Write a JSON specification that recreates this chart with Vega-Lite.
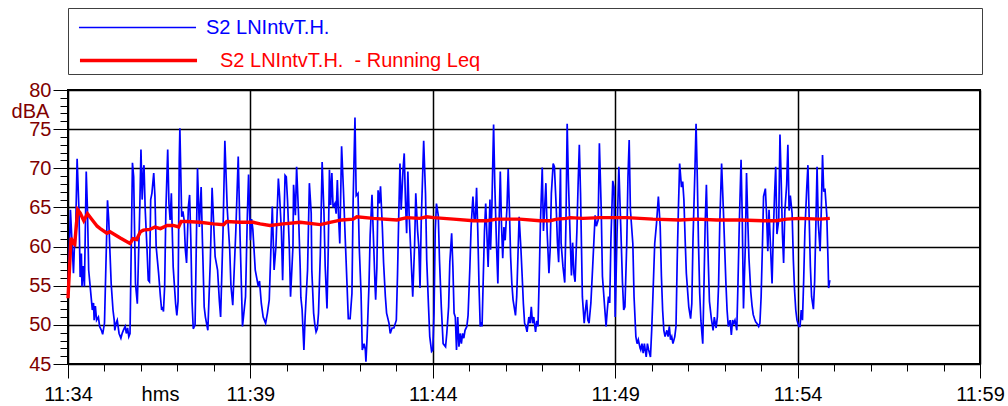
{
  "$schema": "https://vega.github.io/schema/vega-lite/v6.json",
  "width": 912,
  "height": 274,
  "autosize": "none",
  "padding": {"left": 68, "top": 90, "right": 28, "bottom": 42},
  "config": {
    "font": "Liberation Sans",
    "view": {"stroke": "black", "strokeWidth": 2},
    "axis": {
      "domainColor": "black",
      "tickColor": "black",
      "gridColor": "black",
      "gridWidth": 1.5,
      "labelFontSize": 20,
      "titleFontSize": 20,
      "titleFontWeight": "normal"
    }
  },
  "resolve": {"scale": {"color": "independent"}, "axis": {"x": "independent", "y": "independent"}},
  "layer": [
    {
      "data": {"values": [
      {"t": "2024-01-01T11:34:00", "v": 53.5}, {"t": "2024-01-01T11:34:04", "v": 64.7}, {"t": "2024-01-01T11:34:09", "v": 56.6}, {"t": "2024-01-01T11:34:11", "v": 61},
      {"t": "2024-01-01T11:34:12", "v": 60}, {"t": "2024-01-01T11:34:15", "v": 71.2}, {"t": "2024-01-01T11:34:18", "v": 64.7}, {"t": "2024-01-01T11:34:20", "v": 56.1},
      {"t": "2024-01-01T11:34:22", "v": 59.1}, {"t": "2024-01-01T11:34:23", "v": 54.9}, {"t": "2024-01-01T11:34:25", "v": 57.5}, {"t": "2024-01-01T11:34:27", "v": 54.9},
      {"t": "2024-01-01T11:34:30", "v": 69.6}, {"t": "2024-01-01T11:34:32", "v": 64.7}, {"t": "2024-01-01T11:34:34", "v": 57}, {"t": "2024-01-01T11:34:38", "v": 53.6},
      {"t": "2024-01-01T11:34:40", "v": 51.9}, {"t": "2024-01-01T11:34:42", "v": 52.8}, {"t": "2024-01-01T11:34:43", "v": 50.6}, {"t": "2024-01-01T11:34:45", "v": 52.4},
      {"t": "2024-01-01T11:34:47", "v": 50.6}, {"t": "2024-01-01T11:34:50", "v": 51}, {"t": "2024-01-01T11:34:52", "v": 49.8}, {"t": "2024-01-01T11:34:55", "v": 49.3},
      {"t": "2024-01-01T11:34:57", "v": 48.8}, {"t": "2024-01-01T11:35:00", "v": 50.2}, {"t": "2024-01-01T11:35:05", "v": 65.9}, {"t": "2024-01-01T11:35:07", "v": 63.4},
      {"t": "2024-01-01T11:35:11", "v": 55.3}, {"t": "2024-01-01T11:35:14", "v": 51.9}, {"t": "2024-01-01T11:35:16", "v": 50.6}, {"t": "2024-01-01T11:35:17", "v": 49.3},
      {"t": "2024-01-01T11:35:19", "v": 50.2}, {"t": "2024-01-01T11:35:21", "v": 50.6}, {"t": "2024-01-01T11:35:24", "v": 48.9}, {"t": "2024-01-01T11:35:27", "v": 48.3},
      {"t": "2024-01-01T11:35:29", "v": 48.9}, {"t": "2024-01-01T11:35:31", "v": 49.3}, {"t": "2024-01-01T11:35:34", "v": 49.8}, {"t": "2024-01-01T11:35:36", "v": 48.9},
      {"t": "2024-01-01T11:35:38", "v": 49.6}, {"t": "2024-01-01T11:35:40", "v": 48.5}, {"t": "2024-01-01T11:35:42", "v": 48.9}, {"t": "2024-01-01T11:35:46", "v": 70.7},
      {"t": "2024-01-01T11:35:48", "v": 68.9}, {"t": "2024-01-01T11:35:51", "v": 55.3}, {"t": "2024-01-01T11:35:54", "v": 52.7}, {"t": "2024-01-01T11:35:58", "v": 64.7},
      {"t": "2024-01-01T11:36:00", "v": 72.4}, {"t": "2024-01-01T11:36:02", "v": 66}, {"t": "2024-01-01T11:36:04", "v": 69.8}, {"t": "2024-01-01T11:36:05", "v": 70.4},
      {"t": "2024-01-01T11:36:07", "v": 64.7}, {"t": "2024-01-01T11:36:10", "v": 59.6}, {"t": "2024-01-01T11:36:12", "v": 55.7}, {"t": "2024-01-01T11:36:14", "v": 55.5},
      {"t": "2024-01-01T11:36:16", "v": 66}, {"t": "2024-01-01T11:36:18", "v": 66.8}, {"t": "2024-01-01T11:36:21", "v": 69.4}, {"t": "2024-01-01T11:36:23", "v": 66.4},
      {"t": "2024-01-01T11:36:25", "v": 60}, {"t": "2024-01-01T11:36:27", "v": 58.3}, {"t": "2024-01-01T11:36:29", "v": 56.6}, {"t": "2024-01-01T11:36:32", "v": 53.6},
      {"t": "2024-01-01T11:36:34", "v": 51.9}, {"t": "2024-01-01T11:36:36", "v": 52.3}, {"t": "2024-01-01T11:36:37", "v": 51.7}, {"t": "2024-01-01T11:36:39", "v": 55},
      {"t": "2024-01-01T11:36:41", "v": 64.7}, {"t": "2024-01-01T11:36:44", "v": 72.4}, {"t": "2024-01-01T11:36:46", "v": 65.5}, {"t": "2024-01-01T11:36:48", "v": 63.4},
      {"t": "2024-01-01T11:36:50", "v": 66.8}, {"t": "2024-01-01T11:36:51", "v": 63.4}, {"t": "2024-01-01T11:36:53", "v": 57.4}, {"t": "2024-01-01T11:36:57", "v": 52.7},
      {"t": "2024-01-01T11:36:59", "v": 51.2}, {"t": "2024-01-01T11:37:01", "v": 53}, {"t": "2024-01-01T11:37:03", "v": 71.1}, {"t": "2024-01-01T11:37:04", "v": 75.1},
      {"t": "2024-01-01T11:37:07", "v": 63.8}, {"t": "2024-01-01T11:37:09", "v": 64.5}, {"t": "2024-01-01T11:37:11", "v": 63.4}, {"t": "2024-01-01T11:37:13", "v": 59.6},
      {"t": "2024-01-01T11:37:15", "v": 57.9}, {"t": "2024-01-01T11:37:18", "v": 65.1}, {"t": "2024-01-01T11:37:20", "v": 66.6}, {"t": "2024-01-01T11:37:22", "v": 61},
      {"t": "2024-01-01T11:37:24", "v": 53}, {"t": "2024-01-01T11:37:26", "v": 49.5}, {"t": "2024-01-01T11:37:29", "v": 50}, {"t": "2024-01-01T11:37:31", "v": 60},
      {"t": "2024-01-01T11:37:33", "v": 70}, {"t": "2024-01-01T11:37:36", "v": 62.5}, {"t": "2024-01-01T11:37:39", "v": 67.6}, {"t": "2024-01-01T11:37:41", "v": 61},
      {"t": "2024-01-01T11:37:44", "v": 52.3}, {"t": "2024-01-01T11:37:46", "v": 51}, {"t": "2024-01-01T11:37:50", "v": 49.3}, {"t": "2024-01-01T11:37:54", "v": 58},
      {"t": "2024-01-01T11:37:57", "v": 67.5}, {"t": "2024-01-01T11:38:02", "v": 58.7}, {"t": "2024-01-01T11:38:06", "v": 57}, {"t": "2024-01-01T11:38:09", "v": 53},
      {"t": "2024-01-01T11:38:11", "v": 51}, {"t": "2024-01-01T11:38:15", "v": 62}, {"t": "2024-01-01T11:38:18", "v": 73.5}, {"t": "2024-01-01T11:38:22", "v": 64.7},
      {"t": "2024-01-01T11:38:26", "v": 59.6}, {"t": "2024-01-01T11:38:28", "v": 55}, {"t": "2024-01-01T11:38:31", "v": 52.5}, {"t": "2024-01-01T11:38:36", "v": 62},
      {"t": "2024-01-01T11:38:40", "v": 71.5}, {"t": "2024-01-01T11:38:43", "v": 61.3}, {"t": "2024-01-01T11:38:47", "v": 49.8}, {"t": "2024-01-01T11:38:52", "v": 53.6},
      {"t": "2024-01-01T11:38:55", "v": 64}, {"t": "2024-01-01T11:38:57", "v": 69.2}, {"t": "2024-01-01T11:39:00", "v": 60.8}, {"t": "2024-01-01T11:39:02", "v": 63.5},
      {"t": "2024-01-01T11:39:04", "v": 62.2}, {"t": "2024-01-01T11:39:08", "v": 57}, {"t": "2024-01-01T11:39:13", "v": 54.9}, {"t": "2024-01-01T11:39:15", "v": 55.6},
      {"t": "2024-01-01T11:39:18", "v": 52.7}, {"t": "2024-01-01T11:39:21", "v": 51}, {"t": "2024-01-01T11:39:25", "v": 50.2}, {"t": "2024-01-01T11:39:28", "v": 51.5},
      {"t": "2024-01-01T11:39:31", "v": 53.2}, {"t": "2024-01-01T11:39:36", "v": 65.1}, {"t": "2024-01-01T11:39:39", "v": 57}, {"t": "2024-01-01T11:39:42", "v": 60},
      {"t": "2024-01-01T11:39:46", "v": 68.7}, {"t": "2024-01-01T11:39:48", "v": 66.5}, {"t": "2024-01-01T11:39:51", "v": 62}, {"t": "2024-01-01T11:39:53", "v": 55.7},
      {"t": "2024-01-01T11:39:57", "v": 69.1}, {"t": "2024-01-01T11:39:59", "v": 68.9}, {"t": "2024-01-01T11:40:01", "v": 66}, {"t": "2024-01-01T11:40:04", "v": 60},
      {"t": "2024-01-01T11:40:06", "v": 53.6}, {"t": "2024-01-01T11:40:10", "v": 60}, {"t": "2024-01-01T11:40:11", "v": 67.9}, {"t": "2024-01-01T11:40:14", "v": 64},
      {"t": "2024-01-01T11:40:16", "v": 70.2}, {"t": "2024-01-01T11:40:19", "v": 64.5}, {"t": "2024-01-01T11:40:22", "v": 57}, {"t": "2024-01-01T11:40:23", "v": 53.5},
      {"t": "2024-01-01T11:40:25", "v": 52}, {"t": "2024-01-01T11:40:28", "v": 46.8}, {"t": "2024-01-01T11:40:30", "v": 51}, {"t": "2024-01-01T11:40:34", "v": 57},
      {"t": "2024-01-01T11:40:37", "v": 68.1}, {"t": "2024-01-01T11:40:40", "v": 64.3}, {"t": "2024-01-01T11:40:41", "v": 57}, {"t": "2024-01-01T11:40:44", "v": 51.5},
      {"t": "2024-01-01T11:40:46", "v": 50}, {"t": "2024-01-01T11:40:48", "v": 49.1}, {"t": "2024-01-01T11:40:50", "v": 49.5}, {"t": "2024-01-01T11:40:52", "v": 51.5},
      {"t": "2024-01-01T11:40:55", "v": 59}, {"t": "2024-01-01T11:40:58", "v": 70.8}, {"t": "2024-01-01T11:41:01", "v": 64.3}, {"t": "2024-01-01T11:41:03", "v": 57.5},
      {"t": "2024-01-01T11:41:06", "v": 52.1}, {"t": "2024-01-01T11:41:08", "v": 59.5}, {"t": "2024-01-01T11:41:10", "v": 69.8}, {"t": "2024-01-01T11:41:12", "v": 65.3},
      {"t": "2024-01-01T11:41:14", "v": 69.4}, {"t": "2024-01-01T11:41:16", "v": 65}, {"t": "2024-01-01T11:41:19", "v": 65.5}, {"t": "2024-01-01T11:41:21", "v": 64.2},
      {"t": "2024-01-01T11:41:23", "v": 68.5}, {"t": "2024-01-01T11:41:25", "v": 63.8}, {"t": "2024-01-01T11:41:27", "v": 60.4}, {"t": "2024-01-01T11:41:30", "v": 72.8},
      {"t": "2024-01-01T11:41:33", "v": 67.3}, {"t": "2024-01-01T11:41:36", "v": 61}, {"t": "2024-01-01T11:41:39", "v": 55}, {"t": "2024-01-01T11:41:41", "v": 50.8},
      {"t": "2024-01-01T11:41:44", "v": 50.8}, {"t": "2024-01-01T11:41:47", "v": 54}, {"t": "2024-01-01T11:41:49", "v": 66}, {"t": "2024-01-01T11:41:52", "v": 76.5},
      {"t": "2024-01-01T11:41:54", "v": 66.5}, {"t": "2024-01-01T11:41:57", "v": 66.8}, {"t": "2024-01-01T11:41:59", "v": 60}, {"t": "2024-01-01T11:42:02", "v": 54},
      {"t": "2024-01-01T11:42:04", "v": 46.8}, {"t": "2024-01-01T11:42:07", "v": 47.6}, {"t": "2024-01-01T11:42:09", "v": 46.8}, {"t": "2024-01-01T11:42:10", "v": 45.3},
      {"t": "2024-01-01T11:42:12", "v": 48.5}, {"t": "2024-01-01T11:42:15", "v": 55}, {"t": "2024-01-01T11:42:17", "v": 61.5}, {"t": "2024-01-01T11:42:20", "v": 66.6},
      {"t": "2024-01-01T11:42:22", "v": 62}, {"t": "2024-01-01T11:42:25", "v": 55}, {"t": "2024-01-01T11:42:26", "v": 53.2}, {"t": "2024-01-01T11:42:28", "v": 57.3},
      {"t": "2024-01-01T11:42:30", "v": 67.2}, {"t": "2024-01-01T11:42:32", "v": 65.5}, {"t": "2024-01-01T11:42:34", "v": 67.7}, {"t": "2024-01-01T11:42:37", "v": 62.5},
      {"t": "2024-01-01T11:42:39", "v": 58}, {"t": "2024-01-01T11:42:42", "v": 53.6}, {"t": "2024-01-01T11:42:44", "v": 51.5}, {"t": "2024-01-01T11:42:48", "v": 50.2},
      {"t": "2024-01-01T11:42:50", "v": 48.9}, {"t": "2024-01-01T11:42:53", "v": 49.6}, {"t": "2024-01-01T11:42:56", "v": 49.6}, {"t": "2024-01-01T11:43:00", "v": 50.6},
      {"t": "2024-01-01T11:43:02", "v": 56.5}, {"t": "2024-01-01T11:43:04", "v": 64}, {"t": "2024-01-01T11:43:06", "v": 70.6}, {"t": "2024-01-01T11:43:08", "v": 64.7},
      {"t": "2024-01-01T11:43:11", "v": 69.8}, {"t": "2024-01-01T11:43:13", "v": 71.9}, {"t": "2024-01-01T11:43:15", "v": 65.9}, {"t": "2024-01-01T11:43:17", "v": 61.7},
      {"t": "2024-01-01T11:43:19", "v": 69.6}, {"t": "2024-01-01T11:43:21", "v": 64.3}, {"t": "2024-01-01T11:43:24", "v": 59}, {"t": "2024-01-01T11:43:27", "v": 53.6},
      {"t": "2024-01-01T11:43:30", "v": 60}, {"t": "2024-01-01T11:43:32", "v": 66.8}, {"t": "2024-01-01T11:43:35", "v": 62}, {"t": "2024-01-01T11:43:37", "v": 60},
      {"t": "2024-01-01T11:43:39", "v": 54.7}, {"t": "2024-01-01T11:43:41", "v": 63.3}, {"t": "2024-01-01T11:43:43", "v": 68.4}, {"t": "2024-01-01T11:43:45", "v": 73.5},
      {"t": "2024-01-01T11:43:48", "v": 66.8}, {"t": "2024-01-01T11:43:50", "v": 58.3}, {"t": "2024-01-01T11:43:53", "v": 52.3}, {"t": "2024-01-01T11:43:55", "v": 48.5},
      {"t": "2024-01-01T11:43:58", "v": 46.6}, {"t": "2024-01-01T11:44:00", "v": 46.8}, {"t": "2024-01-01T11:44:02", "v": 51.5}, {"t": "2024-01-01T11:44:04", "v": 62},
      {"t": "2024-01-01T11:44:06", "v": 65.5}, {"t": "2024-01-01T11:44:09", "v": 64}, {"t": "2024-01-01T11:44:11", "v": 58.3}, {"t": "2024-01-01T11:44:14", "v": 52.3},
      {"t": "2024-01-01T11:44:17", "v": 47.6}, {"t": "2024-01-01T11:44:21", "v": 47.2}, {"t": "2024-01-01T11:44:23", "v": 48.9}, {"t": "2024-01-01T11:44:26", "v": 52.3},
      {"t": "2024-01-01T11:44:28", "v": 58}, {"t": "2024-01-01T11:44:31", "v": 61.7}, {"t": "2024-01-01T11:44:33", "v": 57.5}, {"t": "2024-01-01T11:44:35", "v": 51.5},
      {"t": "2024-01-01T11:44:37", "v": 51}, {"t": "2024-01-01T11:44:39", "v": 46.8}, {"t": "2024-01-01T11:44:41", "v": 51}, {"t": "2024-01-01T11:44:43", "v": 47.2},
      {"t": "2024-01-01T11:44:45", "v": 48.9}, {"t": "2024-01-01T11:44:47", "v": 47.6}, {"t": "2024-01-01T11:44:49", "v": 48.9}, {"t": "2024-01-01T11:44:51", "v": 48.3},
      {"t": "2024-01-01T11:44:53", "v": 49.3}, {"t": "2024-01-01T11:44:56", "v": 49.8}, {"t": "2024-01-01T11:44:58", "v": 51.2}, {"t": "2024-01-01T11:45:01", "v": 57.4},
      {"t": "2024-01-01T11:45:03", "v": 62.5}, {"t": "2024-01-01T11:45:06", "v": 66.4}, {"t": "2024-01-01T11:45:08", "v": 63.6}, {"t": "2024-01-01T11:45:10", "v": 63.4},
      {"t": "2024-01-01T11:45:12", "v": 67.5}, {"t": "2024-01-01T11:45:14", "v": 62}, {"t": "2024-01-01T11:45:16", "v": 55}, {"t": "2024-01-01T11:45:18", "v": 49.8},
      {"t": "2024-01-01T11:45:20", "v": 50.2}, {"t": "2024-01-01T11:45:21", "v": 49.8}, {"t": "2024-01-01T11:45:23", "v": 56}, {"t": "2024-01-01T11:45:25", "v": 62},
      {"t": "2024-01-01T11:45:27", "v": 65.5}, {"t": "2024-01-01T11:45:29", "v": 61.5}, {"t": "2024-01-01T11:45:31", "v": 57.4}, {"t": "2024-01-01T11:45:34", "v": 66},
      {"t": "2024-01-01T11:45:35", "v": 59.6}, {"t": "2024-01-01T11:45:37", "v": 64.5}, {"t": "2024-01-01T11:45:40", "v": 75.6}, {"t": "2024-01-01T11:45:42", "v": 67.8},
      {"t": "2024-01-01T11:45:45", "v": 59.7}, {"t": "2024-01-01T11:45:47", "v": 55.3}, {"t": "2024-01-01T11:45:48", "v": 59.6}, {"t": "2024-01-01T11:45:51", "v": 69.6},
      {"t": "2024-01-01T11:45:53", "v": 62.8}, {"t": "2024-01-01T11:45:55", "v": 58.5}, {"t": "2024-01-01T11:45:57", "v": 62.5}, {"t": "2024-01-01T11:45:59", "v": 60.8},
      {"t": "2024-01-01T11:46:02", "v": 65}, {"t": "2024-01-01T11:46:04", "v": 69.9}, {"t": "2024-01-01T11:46:06", "v": 64.7}, {"t": "2024-01-01T11:46:08", "v": 58.7},
      {"t": "2024-01-01T11:46:10", "v": 55.3}, {"t": "2024-01-01T11:46:12", "v": 53.2}, {"t": "2024-01-01T11:46:16", "v": 51.2}, {"t": "2024-01-01T11:46:18", "v": 53.6},
      {"t": "2024-01-01T11:46:20", "v": 58.7}, {"t": "2024-01-01T11:46:22", "v": 63.8}, {"t": "2024-01-01T11:46:25", "v": 59.6}, {"t": "2024-01-01T11:46:27", "v": 56.2},
      {"t": "2024-01-01T11:46:29", "v": 52.7}, {"t": "2024-01-01T11:46:31", "v": 50.2}, {"t": "2024-01-01T11:46:33", "v": 49.8}, {"t": "2024-01-01T11:46:35", "v": 49.1},
      {"t": "2024-01-01T11:46:38", "v": 51}, {"t": "2024-01-01T11:46:40", "v": 50.2}, {"t": "2024-01-01T11:46:42", "v": 52.3}, {"t": "2024-01-01T11:46:44", "v": 50.2},
      {"t": "2024-01-01T11:46:46", "v": 51}, {"t": "2024-01-01T11:46:49", "v": 49.1}, {"t": "2024-01-01T11:46:51", "v": 50.5}, {"t": "2024-01-01T11:46:53", "v": 49.8},
      {"t": "2024-01-01T11:46:55", "v": 56}, {"t": "2024-01-01T11:46:57", "v": 63}, {"t": "2024-01-01T11:47:00", "v": 70.1}, {"t": "2024-01-01T11:47:02", "v": 62},
      {"t": "2024-01-01T11:47:04", "v": 65}, {"t": "2024-01-01T11:47:06", "v": 68.1}, {"t": "2024-01-01T11:47:08", "v": 62}, {"t": "2024-01-01T11:47:11", "v": 56.6},
      {"t": "2024-01-01T11:47:13", "v": 59.6}, {"t": "2024-01-01T11:47:15", "v": 66.8}, {"t": "2024-01-01T11:47:18", "v": 70.6}, {"t": "2024-01-01T11:47:20", "v": 70.2},
      {"t": "2024-01-01T11:47:23", "v": 65}, {"t": "2024-01-01T11:47:25", "v": 60.5}, {"t": "2024-01-01T11:47:27", "v": 58}, {"t": "2024-01-01T11:47:30", "v": 70},
      {"t": "2024-01-01T11:47:31", "v": 60.5}, {"t": "2024-01-01T11:47:34", "v": 57.5}, {"t": "2024-01-01T11:47:37", "v": 55.4}, {"t": "2024-01-01T11:47:39", "v": 63},
      {"t": "2024-01-01T11:47:41", "v": 75.7}, {"t": "2024-01-01T11:47:43", "v": 68.5}, {"t": "2024-01-01T11:47:46", "v": 61}, {"t": "2024-01-01T11:47:48", "v": 56.3},
      {"t": "2024-01-01T11:47:50", "v": 60.5}, {"t": "2024-01-01T11:47:52", "v": 56.6}, {"t": "2024-01-01T11:47:54", "v": 55.5}, {"t": "2024-01-01T11:47:57", "v": 62},
      {"t": "2024-01-01T11:47:59", "v": 68}, {"t": "2024-01-01T11:48:01", "v": 73}, {"t": "2024-01-01T11:48:03", "v": 66.8}, {"t": "2024-01-01T11:48:06", "v": 53.6},
      {"t": "2024-01-01T11:48:09", "v": 50.2}, {"t": "2024-01-01T11:48:11", "v": 51.9}, {"t": "2024-01-01T11:48:13", "v": 53.2}, {"t": "2024-01-01T11:48:15", "v": 50.6},
      {"t": "2024-01-01T11:48:17", "v": 50.2}, {"t": "2024-01-01T11:48:20", "v": 52.8}, {"t": "2024-01-01T11:48:23", "v": 57.5}, {"t": "2024-01-01T11:48:27", "v": 64},
      {"t": "2024-01-01T11:48:29", "v": 62.6}, {"t": "2024-01-01T11:48:32", "v": 63.4}, {"t": "2024-01-01T11:48:34", "v": 73.2}, {"t": "2024-01-01T11:48:37", "v": 64.8},
      {"t": "2024-01-01T11:48:39", "v": 56.2}, {"t": "2024-01-01T11:48:43", "v": 51.9}, {"t": "2024-01-01T11:48:45", "v": 49.8}, {"t": "2024-01-01T11:48:47", "v": 51.9},
      {"t": "2024-01-01T11:48:49", "v": 53.6}, {"t": "2024-01-01T11:48:51", "v": 52.8}, {"t": "2024-01-01T11:48:53", "v": 61}, {"t": "2024-01-01T11:48:56", "v": 68.4},
      {"t": "2024-01-01T11:48:58", "v": 67.6}, {"t": "2024-01-01T11:49:00", "v": 51}, {"t": "2024-01-01T11:49:03", "v": 61.5}, {"t": "2024-01-01T11:49:06", "v": 70.2},
      {"t": "2024-01-01T11:49:09", "v": 62.9}, {"t": "2024-01-01T11:49:12", "v": 55.3}, {"t": "2024-01-01T11:49:14", "v": 51.9}, {"t": "2024-01-01T11:49:16", "v": 52.3},
      {"t": "2024-01-01T11:49:19", "v": 60.4}, {"t": "2024-01-01T11:49:21", "v": 68.9}, {"t": "2024-01-01T11:49:23", "v": 73.6}, {"t": "2024-01-01T11:49:25", "v": 64.7},
      {"t": "2024-01-01T11:49:29", "v": 60.4}, {"t": "2024-01-01T11:49:31", "v": 53.6}, {"t": "2024-01-01T11:49:34", "v": 48.5}, {"t": "2024-01-01T11:49:36", "v": 47.6},
      {"t": "2024-01-01T11:49:38", "v": 48.1}, {"t": "2024-01-01T11:49:41", "v": 47}, {"t": "2024-01-01T11:49:42", "v": 46.8}, {"t": "2024-01-01T11:49:44", "v": 47.6},
      {"t": "2024-01-01T11:49:46", "v": 46.4}, {"t": "2024-01-01T11:49:48", "v": 47.6}, {"t": "2024-01-01T11:49:51", "v": 45.9}, {"t": "2024-01-01T11:49:53", "v": 47.6},
      {"t": "2024-01-01T11:49:55", "v": 46.8}, {"t": "2024-01-01T11:49:58", "v": 45.9}, {"t": "2024-01-01T11:50:00", "v": 49.3}, {"t": "2024-01-01T11:50:02", "v": 53.6},
      {"t": "2024-01-01T11:50:05", "v": 60.4}, {"t": "2024-01-01T11:50:08", "v": 63}, {"t": "2024-01-01T11:50:11", "v": 66.4}, {"t": "2024-01-01T11:50:14", "v": 62.6},
      {"t": "2024-01-01T11:50:16", "v": 56.2}, {"t": "2024-01-01T11:50:18", "v": 51.9}, {"t": "2024-01-01T11:50:20", "v": 49.3}, {"t": "2024-01-01T11:50:22", "v": 48.5},
      {"t": "2024-01-01T11:50:25", "v": 49.3}, {"t": "2024-01-01T11:50:27", "v": 48.5}, {"t": "2024-01-01T11:50:29", "v": 49.8}, {"t": "2024-01-01T11:50:31", "v": 48.1},
      {"t": "2024-01-01T11:50:33", "v": 48.5}, {"t": "2024-01-01T11:50:35", "v": 47.6}, {"t": "2024-01-01T11:50:38", "v": 48.5}, {"t": "2024-01-01T11:50:40", "v": 49.8},
      {"t": "2024-01-01T11:50:42", "v": 58.3}, {"t": "2024-01-01T11:50:44", "v": 65}, {"t": "2024-01-01T11:50:46", "v": 70.6}, {"t": "2024-01-01T11:50:49", "v": 67.6},
      {"t": "2024-01-01T11:50:51", "v": 68.3}, {"t": "2024-01-01T11:50:53", "v": 66}, {"t": "2024-01-01T11:50:55", "v": 61}, {"t": "2024-01-01T11:50:57", "v": 56.6},
      {"t": "2024-01-01T11:51:01", "v": 52.3}, {"t": "2024-01-01T11:51:04", "v": 50.8}, {"t": "2024-01-01T11:51:06", "v": 52.7}, {"t": "2024-01-01T11:51:08", "v": 61},
      {"t": "2024-01-01T11:51:11", "v": 69.4}, {"t": "2024-01-01T11:51:13", "v": 75.7}, {"t": "2024-01-01T11:51:15", "v": 68.9}, {"t": "2024-01-01T11:51:17", "v": 60.4},
      {"t": "2024-01-01T11:51:19", "v": 54}, {"t": "2024-01-01T11:51:21", "v": 50.5}, {"t": "2024-01-01T11:51:24", "v": 47.6}, {"t": "2024-01-01T11:51:26", "v": 55},
      {"t": "2024-01-01T11:51:28", "v": 63}, {"t": "2024-01-01T11:51:30", "v": 67.9}, {"t": "2024-01-01T11:51:33", "v": 58.3}, {"t": "2024-01-01T11:51:35", "v": 53},
      {"t": "2024-01-01T11:51:38", "v": 50.9}, {"t": "2024-01-01T11:51:41", "v": 49.3}, {"t": "2024-01-01T11:51:43", "v": 51}, {"t": "2024-01-01T11:51:46", "v": 49.6},
      {"t": "2024-01-01T11:51:48", "v": 51}, {"t": "2024-01-01T11:51:50", "v": 55}, {"t": "2024-01-01T11:51:52", "v": 63}, {"t": "2024-01-01T11:51:55", "v": 70.6},
      {"t": "2024-01-01T11:51:58", "v": 64.5}, {"t": "2024-01-01T11:52:00", "v": 60}, {"t": "2024-01-01T11:52:02", "v": 55.5}, {"t": "2024-01-01T11:52:04", "v": 51.9},
      {"t": "2024-01-01T11:52:06", "v": 49.8}, {"t": "2024-01-01T11:52:09", "v": 50.6}, {"t": "2024-01-01T11:52:11", "v": 48.7}, {"t": "2024-01-01T11:52:13", "v": 50.6},
      {"t": "2024-01-01T11:52:15", "v": 50.2}, {"t": "2024-01-01T11:52:17", "v": 50.6}, {"t": "2024-01-01T11:52:20", "v": 49.3}, {"t": "2024-01-01T11:52:22", "v": 55.5},
      {"t": "2024-01-01T11:52:24", "v": 62.5}, {"t": "2024-01-01T11:52:27", "v": 71.1}, {"t": "2024-01-01T11:52:29", "v": 63.5}, {"t": "2024-01-01T11:52:31", "v": 52.1},
      {"t": "2024-01-01T11:52:34", "v": 60}, {"t": "2024-01-01T11:52:36", "v": 69.4}, {"t": "2024-01-01T11:52:38", "v": 63.5}, {"t": "2024-01-01T11:52:40", "v": 58.5},
      {"t": "2024-01-01T11:52:43", "v": 54.2}, {"t": "2024-01-01T11:52:45", "v": 52.5}, {"t": "2024-01-01T11:52:47", "v": 51.3}, {"t": "2024-01-01T11:52:49", "v": 50.8},
      {"t": "2024-01-01T11:52:51", "v": 50.4}, {"t": "2024-01-01T11:52:53", "v": 50.2}, {"t": "2024-01-01T11:52:56", "v": 49.8}, {"t": "2024-01-01T11:52:58", "v": 50.2},
      {"t": "2024-01-01T11:53:00", "v": 53.6}, {"t": "2024-01-01T11:53:02", "v": 59.6}, {"t": "2024-01-01T11:53:04", "v": 66.4}, {"t": "2024-01-01T11:53:07", "v": 67.4},
      {"t": "2024-01-01T11:53:09", "v": 64}, {"t": "2024-01-01T11:53:11", "v": 59.4}, {"t": "2024-01-01T11:53:13", "v": 64.7}, {"t": "2024-01-01T11:53:15", "v": 60.8},
      {"t": "2024-01-01T11:53:18", "v": 55.3}, {"t": "2024-01-01T11:53:20", "v": 61.5}, {"t": "2024-01-01T11:53:22", "v": 66.4}, {"t": "2024-01-01T11:53:24", "v": 70.2},
      {"t": "2024-01-01T11:53:26", "v": 61.6}, {"t": "2024-01-01T11:53:29", "v": 63.4}, {"t": "2024-01-01T11:53:31", "v": 74.3}, {"t": "2024-01-01T11:53:33", "v": 68.5},
      {"t": "2024-01-01T11:53:35", "v": 61.7}, {"t": "2024-01-01T11:53:37", "v": 57.9}, {"t": "2024-01-01T11:53:39", "v": 64.5}, {"t": "2024-01-01T11:53:42", "v": 67.9},
      {"t": "2024-01-01T11:53:44", "v": 73}, {"t": "2024-01-01T11:53:46", "v": 64.6}, {"t": "2024-01-01T11:53:48", "v": 66.5}, {"t": "2024-01-01T11:53:51", "v": 64.2},
      {"t": "2024-01-01T11:53:53", "v": 58.3}, {"t": "2024-01-01T11:53:55", "v": 54.4}, {"t": "2024-01-01T11:53:57", "v": 51.9}, {"t": "2024-01-01T11:53:59", "v": 50.6},
      {"t": "2024-01-01T11:54:02", "v": 49.8}, {"t": "2024-01-01T11:54:04", "v": 49.8}, {"t": "2024-01-01T11:54:06", "v": 51.9}, {"t": "2024-01-01T11:54:08", "v": 50.6},
      {"t": "2024-01-01T11:54:10", "v": 55.7}, {"t": "2024-01-01T11:54:12", "v": 62}, {"t": "2024-01-01T11:54:15", "v": 67.4}, {"t": "2024-01-01T11:54:17", "v": 70.4},
      {"t": "2024-01-01T11:54:19", "v": 63.8}, {"t": "2024-01-01T11:54:21", "v": 57.5}, {"t": "2024-01-01T11:54:23", "v": 53.6}, {"t": "2024-01-01T11:54:26", "v": 52},
      {"t": "2024-01-01T11:54:28", "v": 55.5}, {"t": "2024-01-01T11:54:30", "v": 62.6}, {"t": "2024-01-01T11:54:32", "v": 70.2}, {"t": "2024-01-01T11:54:34", "v": 63},
      {"t": "2024-01-01T11:54:37", "v": 59.4}, {"t": "2024-01-01T11:54:39", "v": 64.7}, {"t": "2024-01-01T11:54:41", "v": 71.7}, {"t": "2024-01-01T11:54:43", "v": 67},
      {"t": "2024-01-01T11:54:45", "v": 67.4}, {"t": "2024-01-01T11:54:48", "v": 64}, {"t": "2024-01-01T11:54:50", "v": 58.3}, {"t": "2024-01-01T11:54:51", "v": 54.7},
      {"t": "2024-01-01T11:54:53", "v": 55.7}
      ]},
      "mark": {"type": "line", "strokeWidth": 1.7},
      "encoding": {
        "x": {
          "field": "t",
          "type": "temporal",
          "scale": {
            "domain": [
              {"year": 2024, "month": 1, "date": 1, "hours": 11, "minutes": 34},
              {"year": 2024, "month": 1, "date": 1, "hours": 11, "minutes": 59}
            ],
            "nice": false
          },
          "axis": {
            "title": "hms",
            "titleX": 92,
            "titleY": 36,
            "titleAlign": "center",
            "titleBaseline": "alphabetic",
            "format": "%H:%M",
            "values": [
              {"year": 2024, "month": 1, "date": 1, "hours": 11, "minutes": 34},
              {"year": 2024, "month": 1, "date": 1, "hours": 11, "minutes": 39},
              {"year": 2024, "month": 1, "date": 1, "hours": 11, "minutes": 44},
              {"year": 2024, "month": 1, "date": 1, "hours": 11, "minutes": 49},
              {"year": 2024, "month": 1, "date": 1, "hours": 11, "minutes": 54},
              {"year": 2024, "month": 1, "date": 1, "hours": 11, "minutes": 59}
            ],
            "tickSize": 14,
            "labelPadding": 6,
            "labelColor": "black",
            "labelFlush": false,
            "labelOverlap": false,
            "domain": false
          }
        },
        "y": {
          "field": "v",
          "type": "quantitative",
          "scale": {"domain": [45, 80], "nice": false, "zero": false},
          "axis": {
            "title": "dBA",
            "titleAngle": 0,
            "titleX": -38,
            "titleY": 27,
            "titleAlign": "center",
            "titleBaseline": "alphabetic",
            "values": [45, 50, 55, 60, 65, 70, 75, 80],
            "tickSize": 15,
            "labelPadding": 2,
            "labelOverlap": false,
            "labelColor": "#800000",
            "titleColor": "#800000",
            "domain": false
          }
        },
        "color": {
          "datum": "S2 LNIntvT.H.",
          "type": "nominal",
          "scale": {"domain": ["S2 LNIntvT.H."], "range": ["#0000ff"]},
          "legend": {
            "orient": "none",
            "legendX": 0,
            "legendY": -82,
            "title": "xxxxxxxxxxxxxxxxxxxxxxxxxxxxxxxxxxxxxxxxxxxxxxxxxxxxxxxxxxxxxxxxxxxxxxxxxxxxxxxxxxxxxxxxxx",
            "titleColor": "white",
            "titleOrient": "bottom",
            "titlePadding": 9,
            "titleFontSize": 20,
            "titleFontWeight": "normal",
            "titleLimit": 2000,
            "symbolType": "M-5,0H5",
            "symbolSize": 548,
            "symbolStrokeWidth": 1.5,
            "symbolOffset": 50,
            "labelOffset": 56,
            "labelFontSize": 20,
            "labelColor": "#0000ff",
            "labelLimit": 1000,
            "padding": 7,
            "strokeColor": "#404040",
            "fillColor": "white"
          }
        }
      }
    },
    {
      "data": {"values": [
      {"t": "2024-01-01T11:34:00", "v": 53.4}, {"t": "2024-01-01T11:34:05", "v": 61.1}, {"t": "2024-01-01T11:34:08", "v": 60.5}, {"t": "2024-01-01T11:34:11", "v": 60.3},
      {"t": "2024-01-01T11:34:16", "v": 64.7}, {"t": "2024-01-01T11:34:20", "v": 64.3}, {"t": "2024-01-01T11:34:26", "v": 63.3}, {"t": "2024-01-01T11:34:32", "v": 64.2},
      {"t": "2024-01-01T11:34:39", "v": 63.5}, {"t": "2024-01-01T11:34:48", "v": 62.6}, {"t": "2024-01-01T11:34:53", "v": 62.3}, {"t": "2024-01-01T11:35:04", "v": 61.7},
      {"t": "2024-01-01T11:35:09", "v": 61.9}, {"t": "2024-01-01T11:35:26", "v": 61.1}, {"t": "2024-01-01T11:35:42", "v": 60.4}, {"t": "2024-01-01T11:35:47", "v": 61},
      {"t": "2024-01-01T11:35:53", "v": 60.9}, {"t": "2024-01-01T11:35:59", "v": 61.9}, {"t": "2024-01-01T11:36:04", "v": 62.1}, {"t": "2024-01-01T11:36:15", "v": 62.2},
      {"t": "2024-01-01T11:36:23", "v": 62.5}, {"t": "2024-01-01T11:36:32", "v": 62.3}, {"t": "2024-01-01T11:36:43", "v": 62.7}, {"t": "2024-01-01T11:36:53", "v": 62.7},
      {"t": "2024-01-01T11:37:02", "v": 62.5}, {"t": "2024-01-01T11:37:06", "v": 63.2}, {"t": "2024-01-01T11:37:15", "v": 63.2}, {"t": "2024-01-01T11:37:37", "v": 63.1},
      {"t": "2024-01-01T11:37:59", "v": 62.9}, {"t": "2024-01-01T11:38:16", "v": 62.8}, {"t": "2024-01-01T11:38:21", "v": 63.2}, {"t": "2024-01-01T11:38:43", "v": 63.1},
      {"t": "2024-01-01T11:39:05", "v": 63.1}, {"t": "2024-01-01T11:39:16", "v": 62.9}, {"t": "2024-01-01T11:39:32", "v": 62.7}, {"t": "2024-01-01T11:39:54", "v": 62.9},
      {"t": "2024-01-01T11:40:22", "v": 63.1}, {"t": "2024-01-01T11:40:55", "v": 62.8}, {"t": "2024-01-01T11:41:11", "v": 63.1}, {"t": "2024-01-01T11:41:30", "v": 63.4},
      {"t": "2024-01-01T11:41:49", "v": 63.5}, {"t": "2024-01-01T11:41:55", "v": 63.8}, {"t": "2024-01-01T11:42:22", "v": 63.6}, {"t": "2024-01-01T11:43:01", "v": 63.4},
      {"t": "2024-01-01T11:43:17", "v": 63.7}, {"t": "2024-01-01T11:43:39", "v": 63.6}, {"t": "2024-01-01T11:43:50", "v": 63.8}, {"t": "2024-01-01T11:44:01", "v": 63.7},
      {"t": "2024-01-01T11:44:34", "v": 63.5}, {"t": "2024-01-01T11:45:07", "v": 63.3}, {"t": "2024-01-01T11:45:29", "v": 63.3}, {"t": "2024-01-01T11:45:45", "v": 63.5},
      {"t": "2024-01-01T11:46:23", "v": 63.5}, {"t": "2024-01-01T11:46:56", "v": 63.3}, {"t": "2024-01-01T11:47:13", "v": 63.3}, {"t": "2024-01-01T11:47:24", "v": 63.5},
      {"t": "2024-01-01T11:47:40", "v": 63.6}, {"t": "2024-01-01T11:47:46", "v": 63.7}, {"t": "2024-01-01T11:48:07", "v": 63.6}, {"t": "2024-01-01T11:48:35", "v": 63.7},
      {"t": "2024-01-01T11:49:19", "v": 63.7}, {"t": "2024-01-01T11:50:02", "v": 63.5}, {"t": "2024-01-01T11:50:46", "v": 63.4}, {"t": "2024-01-01T11:51:14", "v": 63.5},
      {"t": "2024-01-01T11:51:47", "v": 63.4}, {"t": "2024-01-01T11:52:25", "v": 63.4}, {"t": "2024-01-01T11:53:03", "v": 63.3}, {"t": "2024-01-01T11:53:25", "v": 63.3},
      {"t": "2024-01-01T11:53:42", "v": 63.5}, {"t": "2024-01-01T11:54:04", "v": 63.6}, {"t": "2024-01-01T11:54:37", "v": 63.5}, {"t": "2024-01-01T11:54:53", "v": 63.6}
      ]},
      "mark": {"type": "line", "strokeWidth": 3.4},
      "encoding": {
        "x": {
          "field": "t",
          "type": "temporal",
          "axis": {
            "orient": "bottom",
            "values": [
              {"year": 2024, "month": 1, "date": 1, "hours": 11, "minutes": 35},
              {"year": 2024, "month": 1, "date": 1, "hours": 11, "minutes": 36},
              {"year": 2024, "month": 1, "date": 1, "hours": 11, "minutes": 37},
              {"year": 2024, "month": 1, "date": 1, "hours": 11, "minutes": 38},
              {"year": 2024, "month": 1, "date": 1, "hours": 11, "minutes": 40},
              {"year": 2024, "month": 1, "date": 1, "hours": 11, "minutes": 41},
              {"year": 2024, "month": 1, "date": 1, "hours": 11, "minutes": 42},
              {"year": 2024, "month": 1, "date": 1, "hours": 11, "minutes": 43},
              {"year": 2024, "month": 1, "date": 1, "hours": 11, "minutes": 45},
              {"year": 2024, "month": 1, "date": 1, "hours": 11, "minutes": 46},
              {"year": 2024, "month": 1, "date": 1, "hours": 11, "minutes": 47},
              {"year": 2024, "month": 1, "date": 1, "hours": 11, "minutes": 48},
              {"year": 2024, "month": 1, "date": 1, "hours": 11, "minutes": 50},
              {"year": 2024, "month": 1, "date": 1, "hours": 11, "minutes": 51},
              {"year": 2024, "month": 1, "date": 1, "hours": 11, "minutes": 52},
              {"year": 2024, "month": 1, "date": 1, "hours": 11, "minutes": 53},
              {"year": 2024, "month": 1, "date": 1, "hours": 11, "minutes": 55},
              {"year": 2024, "month": 1, "date": 1, "hours": 11, "minutes": 56},
              {"year": 2024, "month": 1, "date": 1, "hours": 11, "minutes": 57},
              {"year": 2024, "month": 1, "date": 1, "hours": 11, "minutes": 58}
            ],
            "labels": false,
            "title": null,
            "grid": false,
            "tickSize": 7,
            "domain": false
          }
        },
        "y": {
          "field": "v",
          "type": "quantitative",
          "axis": {
            "orient": "left",
            "values": [46, 47, 48, 49, 51, 52, 53, 54, 56, 57, 58, 59, 61, 62, 63, 64, 66, 67, 68, 69, 71, 72, 73, 74, 76, 77, 78, 79],
            "labels": false,
            "title": null,
            "grid": false,
            "tickSize": 8,
            "domain": false
          }
        },
        "color": {
          "datum": "S2 LNIntvT.H. \u00a0- Running Leq",
          "type": "nominal",
          "scale": {"domain": ["S2 LNIntvT.H. \u00a0- Running Leq"], "range": ["#ff0000"]},
          "legend": {
            "orient": "none",
            "legendX": 0,
            "legendY": -50,
            "title": null,
            "symbolType": "M-5,0H5",
            "symbolSize": 548,
            "symbolStrokeWidth": 3.4,
            "symbolOffset": 50,
            "labelOffset": 68,
            "labelFontSize": 20,
            "labelColor": "#ff0000",
            "labelLimit": 1000,
            "padding": 7
          }
        }
      }
    }
  ]
}
